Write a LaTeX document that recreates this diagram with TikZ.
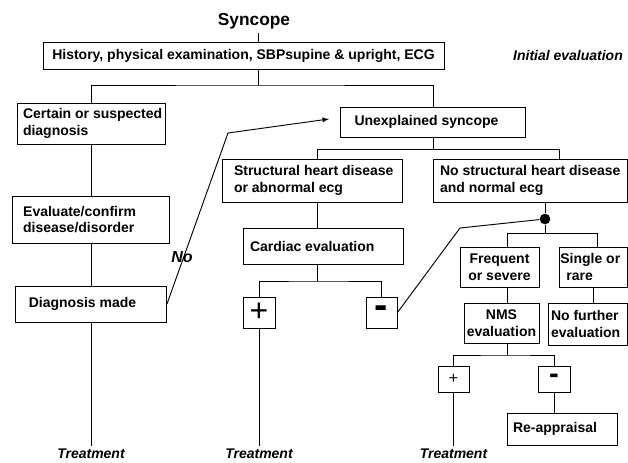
\documentclass[tikz,border=0pt]{standalone}
\usepackage{fontspec}
\setmainfont{Liberation Sans}
\usetikzlibrary{arrows,positioning,calc}

\tikzset{
  box/.style={draw, inner sep=0pt},
  txt/.style={font=\fontsize{10.5}{12.5}\selectfont\bfseries, inner sep=0pt, align=left},
  lbl/.style={font=\fontsize{10.5}{12.5}\selectfont\bfseries\itshape, inner sep=1.5pt},
  joint/.style={circle, fill, inner sep=0pt, minimum size=8pt},
}

\begin{document}
\begin{tikzpicture}[x=0.75pt,y=0.75pt,yscale=-1,xscale=1,line width=0.7pt]
\useasboundingbox (0,0) rectangle (628,463);

% Text Node
\node [font=\fontsize{13}{15}\selectfont\bfseries, anchor=base, inner xsep=0pt, inner ysep=2.5pt] (title) at (254,26) {Syncope};
% Text Node
\node [lbl] (init) at (568,55) {Initial evaluation};

%Shape: Rectangle
\node [box, txt, minimum width=300.75pt, minimum height=20.25pt] (hist) at (243.5,55.5) {History, physical examination, SBPsupine \& upright, ECG};

%Shape: Rectangle
\node [box, minimum width=111pt, minimum height=30.75pt] (certain) at (91,123.5) {};
\node [txt, right=4.5pt of certain.west] (certain-t) {Certain or suspected\\diagnosis};
%Shape: Rectangle
\node [box, minimum width=117.75pt, minimum height=35.25pt] (evaluate) at (91,219.5) {};
\node [txt, right=8pt of evaluate.west] (evaluate-t) {Evaluate/confirm\\disease/disorder};
%Shape: Rectangle
\node [box, minimum width=113.25pt, minimum height=27pt] (diag) at (91,304) {};
\node [txt, right=10pt of diag.west] (diag-t) {Diagnosis made};

%Shape: Rectangle
\node [box, minimum width=138.75pt, minimum height=22.5pt] (unexpl) at (433,122) {};
\node [txt, right=10.5pt of unexpl.west] (unexpl-t) {Unexplained syncope};
%Shape: Rectangle
\node [box, minimum width=135pt, minimum height=32.25pt] (strct) at (312,180.5) {};
\node [txt, right=9pt of strct.west] (strct-t) {Structural heart disease\\or abnormal ecg};
%Shape: Rectangle
\node [box, minimum width=145.5pt, minimum height=32.25pt] (nostr) at (530,180.5) {};
\node [txt, right=5.25pt of nostr.west] (nostr-t) {No structural heart disease\\and normal ecg};
%Shape: Rectangle
\node [box, minimum width=120pt, minimum height=27pt] (cardiac) at (323,246) {};
\node [txt, right=5.25pt of cardiac.west] (cardiac-t) {Cardiac evaluation};

%Shape: Square
\node [box, minimum width=24pt, minimum height=23.25pt, font=\fontsize{24}{24}\selectfont] (plus1) at (259,312.5) {+};
%Shape: Square
\node [box, minimum width=23.25pt, minimum height=23.25pt, font=\fontsize{30}{30}\selectfont\bfseries] (minus1) at (381.5,312.5) {-};

%Shape: Rectangle
\node [box, txt, align=center, minimum width=59.25pt, minimum height=30pt] (freq) at (499.5,267) {Frequent\\or severe};
%Shape: Rectangle
\node [box, minimum width=51pt, minimum height=30pt] (single) at (593,267) {};
\node [txt, right=1pt of single.west] (single-t) {Single or\\\hspace*{4.5pt}rare};
%Shape: Rectangle
\node [box, txt, align=center, minimum width=56.25pt, minimum height=30pt] (nms) at (501.5,323) {NMS\\evaluation};
%Shape: Rectangle
\node [box, minimum width=59.25pt, minimum height=31.5pt] (nofur) at (587.5,324) {};
\node [txt, right=2.25pt of nofur.west] (nofur-t) {No further\\evaluation};

%Shape: Square
\node [box, minimum width=23.25pt, minimum height=19.5pt, font=\fontsize{12}{12}\selectfont] (plus2) at (453.5,379) {+};
%Shape: Square
\node [box, minimum width=24pt, minimum height=19.5pt, font=\fontsize{22}{22}\selectfont\bfseries] (minus2) at (554,379) {-};
%Shape: Rectangle
\node [box, minimum width=82.5pt, minimum height=24pt] (reapp) at (562,429) {};
\node [txt, right=4.5pt of reapp.west] (reapp-t) {Re-appraisal};

% Text Node
\node [lbl, anchor=base] (treat1) at (91,458) {Treatment};
\node [lbl, anchor=base] (treat2) at (259,458) {Treatment};
\node [lbl, anchor=base] (treat3) at (453.5,458) {Treatment};
% Text Node
\node [lbl, font=\fontsize{12}{14}\selectfont\bfseries\itshape] (no) at (182,257.5) {No};

%Circle
\node [joint] (fork) at (545,219) {};

% branch points
\coordinate (b1) at (258,85);
\coordinate (b2) at (317,149);
\coordinate (b3) at (559,149);
\coordinate (b4) at (317,281);
\coordinate (b6) at (507,233);
\coordinate (b7) at (597,233);
\coordinate (b8) at (507,355);
\coordinate (nobend) at (228,133);
\coordinate (notip) at (329,119);
\coordinate (mbend) at (460,228);

%Straight Lines
\draw (title.south -| b1) -- (hist.north -| b1);
\draw (hist.south -| b1) -- (b1);
\draw (certain.north) |- (b1) -| (unexpl.north);
\draw (certain) -- (evaluate);
\draw (evaluate) -- (diag);
\draw (diag) -- (treat1);
%Straight Lines
\draw (unexpl.south) -- (unexpl.south |- b2);
\draw (b2 |- strct.north) |- (b3) -- (b3 |- nostr.north);
\draw (b2 |- strct.south) -- (b2 |- cardiac.north);
\draw (b2 |- cardiac.south) -- (b4);
\draw (plus1.north) |- (b4) -| (minus1.north);
\draw (plus1) -- (treat2);
%Straight Lines
\draw [-latex] (diag.east) -- (nobend) -- (notip);
\draw (minus1.east) -- (mbend) -- (fork);
%Straight Lines
\draw (fork |- nostr.south) -- (fork);
\draw (fork) -- (fork |- b6);
\draw (b6 |- freq.north) |- (b7) -- (b7 |- single.north);
\draw (b6 |- freq.south) -- (b6 |- nms.north);
\draw (single.south) -- (single.south |- nofur.north);
\draw (b6 |- nms.south) -- (b8);
\draw (plus2.north) |- (b8) -| (minus2.north);
\draw (plus2) -- (treat3);
\draw (minus2.south) -- (minus2.south |- reapp.north);
\end{tikzpicture}
\end{document}
